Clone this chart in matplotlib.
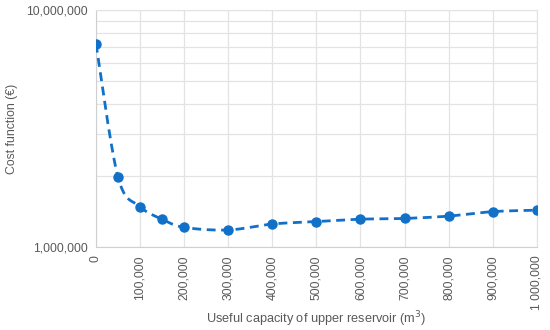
import numpy as np
import matplotlib
matplotlib.use("Agg")
import matplotlib.pyplot as plt
from matplotlib.ticker import FixedLocator, NullFormatter, FuncFormatter

capacity = [0, 50000, 100000, 150000, 200000, 300000, 400000, 500000,
            600000, 700000, 800000, 900000, 1000000]
cost = [7.2e6, 1.97e6, 1.48e6, 1.31e6, 1.21e6, 1.18e6, 1.25e6, 1.28e6,
        1.31e6, 1.32e6, 1.35e6, 1.41e6, 1.43e6]
x_ticks = list(range(0, 1000001, 100000))
x_tick_labels = ["0", "100,000", "200,000", "300,000", "400,000", "500,000",
                 "600,000", "700,000", "800,000", "900,000", "1 000,000"]

plt.rcParams['font.family'] = ['Liberation Sans', 'DejaVu Sans']
text_col = '#595959'
blue = '#1170C8'

fig = plt.figure(figsize=(5.5, 3.3), dpi=100)
ax = fig.add_axes([0.1745, 0.2515, 0.8015, 0.7185])

# Smoothed line (Excel-like Bezier smoothing in log space) for drawing only
xs = np.array(capacity, float)
ys = np.log10(np.array(cost, float))
px, py = [], []
n = len(xs)
for i in range(n - 1):
    p0 = np.array([xs[max(i - 1, 0)], ys[max(i - 1, 0)]])
    p1 = np.array([xs[i], ys[i]])
    p2 = np.array([xs[i + 1], ys[i + 1]])
    p3 = np.array([xs[min(i + 2, n - 1)], ys[min(i + 2, n - 1)]])
    c1 = p1 + (p2 - p0) / 6.0
    c2 = p2 - (p3 - p1) / 6.0
    t = np.linspace(0, 1, 30)[:, None]
    seg = ((1 - t) ** 3) * p1 + 3 * ((1 - t) ** 2) * t * c1 + 3 * (1 - t) * t ** 2 * c2 + t ** 3 * p2
    px.extend(seg[:, 0]); py.extend(seg[:, 1])
ax.plot(px, 10 ** np.array(py), color=blue, lw=2.0, ls=(0, (3.2, 2.0)), zorder=3)
ax.plot(capacity, cost, 'o', color=blue, ms=6.5, zorder=4)

ax.set_yscale('log')
ax.set_ylim(1e6, 1e7)
ax.set_xlim(0, 1000000)
ax.yaxis.set_major_locator(FixedLocator([1e6, 1e7]))
ax.yaxis.set_major_formatter(FuncFormatter(lambda v, p: f"{int(round(v)):,}"))
ax.yaxis.set_minor_locator(FixedLocator([k * 1e6 for k in range(2, 10)]))
ax.yaxis.set_minor_formatter(NullFormatter())
ax.set_xticks(x_ticks)
ax.set_xticklabels(x_tick_labels, rotation=90)

ax.grid(True, which='both', color='#e3e3e3', lw=0.9, zorder=0)
for s in ['top', 'right']:
    ax.spines[s].set_color('#e3e3e3')
for s in ['left', 'bottom']:
    ax.spines[s].set_color('#d0d0d0')
ax.tick_params(axis='both', which='both', length=0, colors=text_col, labelsize=8.7, pad=6)
ax.set_axisbelow(True)

ax.set_ylabel('Cost function (€)', color=text_col, fontsize=8.8, labelpad=6)
ax.set_xlabel('Useful capacity of upper reservoir (m$^3$)', color=text_col, fontsize=9.2)
ax.xaxis.set_label_coords(0.5, -0.265)

fig.savefig('out.png', dpi=100)
